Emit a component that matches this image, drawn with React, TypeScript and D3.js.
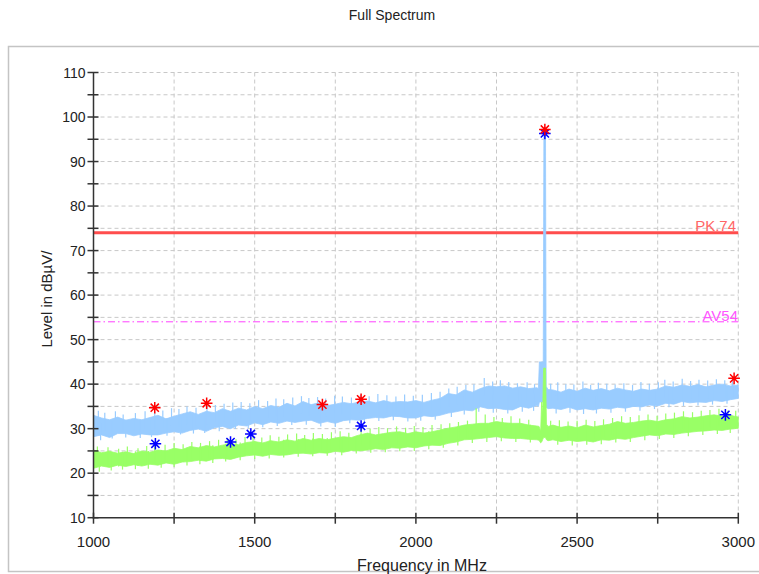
import React, { useEffect, useRef } from 'react';
import * as d3 from 'd3';

// sample grid of the trace (25 MHz), carrier region handled separately
const FREQS = d3.range(1000, 3001, 25).filter(f => f !== 2400);

// peak trace (light blue), upper / lower edge of the noise band in dBµV
const blueHi = [
  33.0, 32.4, 32.0, 32.6, 31.9, 32.3, 32.0, 32.5,
  33.0, 32.2, 32.8, 33.3, 33.8, 33.2, 33.9, 33.6,
  34.5, 33.9, 34.6, 34.2, 35.0, 34.5, 35.2, 34.8,
  35.7, 35.1, 36.1, 35.4, 35.8, 35.2, 35.5, 35.9,
  35.6, 36.0, 36.2, 35.8, 36.3, 35.9, 36.1, 36.0,
  36.3, 35.9, 36.4, 36.8, 37.9, 37.6, 38.7, 38.2,
  39.0, 39.6, 39.4, 39.6, 39.1, 39.4, 39.0, 39.2,
  38.7, 38.2, 38.9, 38.4, 39.1, 38.6, 39.0, 38.5,
  39.1, 38.7, 38.4, 38.9, 38.6, 38.9, 39.6, 39.3,
  39.8, 39.5, 39.9, 39.4, 39.8, 40.0, 39.6, 39.8,
];
const blueLo = [
  28.2, 28.6, 28.0, 28.9, 28.9, 28.4, 28.8, 28.6,
  28.6, 29.0, 29.3, 29.0, 29.6, 29.9, 29.4, 30.2,
  30.5, 30.0, 30.8, 30.6, 31.3, 30.9, 31.5, 31.2,
  31.7, 31.4, 31.7, 31.9, 31.2, 31.6, 31.2, 31.8,
  32.0, 31.9, 32.3, 32.5, 32.4, 32.8, 32.7, 32.4,
  32.4, 32.9, 32.7, 33.0, 33.5, 33.8, 34.2, 34.0,
  34.9, 34.5, 34.6, 34.3, 34.2, 35.0, 34.6, 35.2,
  34.6, 34.3, 34.8, 34.2, 34.5, 34.2, 34.6, 34.4,
  34.8, 34.6, 35.0, 34.9, 35.3, 35.1, 35.7, 35.5,
  36.1, 35.8, 36.0, 35.9, 36.3, 36.1, 36.5, 36.8,
];

// average trace (green)
const greenHi = [
  25.2, 24.6, 24.9, 24.5, 24.8, 24.4, 25.0, 24.7,
  25.2, 25.0, 25.6, 25.3, 26.0, 25.7, 26.2, 25.9,
  26.3, 26.6, 26.4, 26.9, 27.1, 26.8, 27.3, 27.0,
  27.5, 27.2, 27.8, 27.4, 27.8, 27.5, 27.9, 28.2,
  28.0, 28.6, 29.0, 28.6, 28.9, 29.2, 29.3, 28.9,
  29.3, 29.0, 29.3, 29.7, 30.1, 30.4, 30.8, 31.0,
  31.2, 31.2, 31.6, 31.3, 31.2, 31.2, 30.8, 30.6,
  30.8, 30.3, 30.6, 30.2, 30.8, 30.4, 30.7, 31.0,
  31.6, 31.2, 31.4, 31.7, 31.9, 31.6, 32.0, 32.2,
  32.7, 32.4, 32.6, 32.9, 33.1, 32.8, 33.0, 32.6,
];
const greenLo = [
  21.1, 21.6, 21.3, 21.8, 21.5, 21.9, 21.6, 22.0,
  21.8, 22.3, 22.0, 22.5, 22.6, 22.9, 22.7, 23.2,
  23.3, 23.1, 23.6, 23.9, 24.1, 23.8, 24.2, 24.0,
  24.1, 24.4, 24.5, 24.3, 24.6, 24.5, 24.9, 24.7,
  25.1, 25.0, 25.2, 25.5, 25.3, 25.7, 25.6, 25.9,
  25.7, 26.1, 26.3, 26.2, 26.7, 27.0, 27.5, 27.6,
  27.8, 28.0, 28.2, 27.9, 27.8, 27.8, 27.6, 27.5,
  27.5, 27.1, 27.4, 27.1, 27.3, 27.0, 27.5, 27.4,
  27.8, 27.6, 28.0, 28.3, 28.6, 28.4, 28.8, 28.7,
  29.0, 29.2, 29.4, 29.5, 29.7, 29.6, 29.9, 30.1,
];

// 2.4 GHz carrier
const blueCarrierF = [2380, 2383, 2395, 2397, 2402, 2404, 2410];
const blueCarrierHi = [39.0, 45.0, 45.0, 96.3, 96.3, 39.5, 38.8];
const blueCarrierLo = [35.0, 36.0, 36.0, 36.0, 36.0, 34.8, 34.5];
const greenCarrierF = [2382, 2387, 2390, 2393, 2396, 2402, 2405, 2410];
const greenCarrierHi = [30.5, 29.5, 36.0, 33.0, 43.6, 43.6, 31.0, 30.5];
const greenCarrierLo = [27.4, 26.8, 27.0, 27.5, 28.0, 28.0, 27.5, 27.3];

// single noise spikes above the band [MHz, dBµV]
const blueUp = [
  [1015, 34.0], [1035, 33.6], [1068, 33.9], [1092, 33.2], [1130, 33.5], [1160, 33.9],
  [1190, 33.8], [1215, 34.1], [1242, 34.6], [1265, 34.4], [1290, 35.0], [1318, 34.7],
  [1352, 35.0], [1378, 35.3], [1405, 35.6], [1432, 35.9], [1458, 36.0], [1485, 35.7],
  [1512, 36.4], [1540, 36.2], [1566, 36.8], [1590, 36.6], [1618, 37.0], [1645, 37.3],
  [1668, 36.9], [1695, 37.1], [1720, 36.8], [1748, 37.4], [1772, 37.2], [1800, 37.0],
  [1828, 37.6], [1855, 37.3], [1882, 37.8], [1910, 37.5], [1938, 37.2], [1965, 37.7],
  [1992, 37.4], [2020, 37.6], [2048, 38.0], [2075, 38.3], [2102, 39.0], [2128, 39.4],
  [2155, 39.8], [2180, 40.0], [2212, 41.4], [2238, 40.6], [2262, 40.9], [2288, 40.5],
  [2315, 40.2], [2345, 40.4], [2368, 40.0], [2418, 40.1], [2440, 40.4], [2465, 40.0],
  [2490, 39.9], [2518, 40.6], [2542, 39.8], [2566, 40.3], [2592, 40.1], [2618, 39.9],
  [2645, 40.2], [2672, 39.8], [2698, 40.5], [2724, 40.1], [2752, 40.4], [2772, 41.0],
  [2798, 40.6], [2826, 41.2], [2852, 40.7], [2878, 41.0], [2905, 40.8], [2932, 41.1],
  [2958, 40.9], [2982, 41.2],
];
// single dips below the band
const blueDown = [
  [1022, 27.4], [1058, 27.8], [1100, 28.0], [1145, 27.9], [1180, 28.1], [1228, 28.4],
  [1270, 28.7], [1310, 28.9], [1345, 29.0], [1390, 29.4], [1440, 29.9], [1480, 30.1],
  [1525, 30.3], [1570, 30.6], [1615, 30.8], [1660, 30.9], [1705, 30.5], [1750, 30.4],
  [1795, 31.2], [1840, 31.5], [1885, 31.7], [1930, 31.9], [1975, 31.6], [2015, 31.8],
  [2060, 32.0], [2110, 32.6], [2150, 33.2], [2195, 33.8], [2240, 33.6], [2285, 33.4],
  [2330, 33.8], [2365, 34.0], [2435, 33.4], [2478, 33.6], [2520, 33.3], [2560, 33.4],
  [2605, 33.6], [2650, 33.8], [2695, 34.0], [2740, 34.4], [2785, 34.8], [2830, 35.1],
  [2875, 35.2], [2920, 35.4], [2965, 35.6],
];
const greenUp = [
  [1012, 26.0], [1045, 25.8], [1078, 25.5], [1105, 26.0], [1138, 25.6], [1165, 26.1],
  [1190, 26.2], [1222, 26.4], [1250, 26.8], [1278, 26.5], [1305, 27.0], [1332, 26.8],
  [1360, 27.2], [1388, 27.5], [1415, 27.8], [1442, 27.6], [1470, 28.1], [1495, 28.4],
  [1522, 28.0], [1548, 28.5], [1575, 28.2], [1602, 28.7], [1630, 28.9], [1655, 28.6],
  [1682, 29.0], [1710, 28.8], [1738, 29.2], [1765, 29.4], [1792, 29.1], [1830, 30.2],
  [1858, 30.0], [1885, 30.4], [1912, 30.1], [1940, 30.5], [1968, 30.2], [1995, 30.6],
  [2022, 30.4], [2050, 30.8], [2078, 31.0], [2105, 31.2], [2132, 31.5], [2160, 31.8],
  [2187, 34.6], [2215, 33.2], [2242, 32.6], [2268, 32.4], [2295, 32.8], [2322, 32.3],
  [2350, 32.0], [2418, 31.8], [2445, 31.9], [2472, 31.6], [2500, 31.8], [2528, 32.0],
  [2555, 31.7], [2582, 32.1], [2610, 32.4], [2638, 32.8], [2665, 32.6], [2692, 33.0],
  [2720, 33.2], [2748, 32.9], [2775, 33.4], [2802, 33.6], [2830, 33.9], [2858, 33.7],
  [2885, 34.0], [2912, 34.2], [2940, 34.5], [2968, 34.1], [2992, 34.0],
];
const greenDown = [
  [1018, 20.3], [1055, 20.6], [1090, 20.8], [1130, 20.9], [1170, 21.0], [1210, 21.2],
  [1250, 21.4], [1290, 21.7], [1330, 22.0], [1370, 22.3], [1410, 22.6], [1455, 22.9],
  [1500, 23.2], [1545, 23.3], [1590, 23.5], [1635, 23.7], [1680, 23.8], [1725, 23.9],
  [1770, 24.0], [1815, 24.4], [1860, 24.6], [1905, 24.7], [1950, 24.9], [1995, 25.0],
  [2040, 25.4], [2085, 25.7], [2130, 26.2], [2175, 26.8], [2220, 27.0], [2265, 27.2],
  [2310, 27.0], [2355, 26.9], [2440, 26.4], [2485, 26.2], [2530, 26.4], [2575, 26.5],
  [2620, 26.9], [2665, 27.0], [2710, 27.4], [2755, 27.7], [2800, 27.9], [2845, 28.3],
  [2890, 28.6], [2935, 28.8], [2975, 29.0],
];

// final measurement markers
const peakMarkF = [1190, 1351, 1710, 1830, 2400, 2987];
const peakMarkLevel = [34.7, 35.7, 35.4, 36.6, 97.2, 41.3];
const avgMarkF = [1192, 1425, 1488, 1830, 2400, 2960];
const avgMarkLevel = [26.6, 27.0, 28.8, 30.6, 96.3, 33.1];

const xTicks = d3.range(1000, 3001, 250);
const xLabels = [1000, 1500, 2000, 2500, 3000];
const yTicks = d3.range(10, 111, 5);
const yLabels = d3.range(10, 111, 10);

const PK_LIMIT = 74;
const AV_LIMIT = 54;

const FONT = '"Liberation Sans", Arial, sans-serif';

type Pt = { f: number; lo: number; hi: number };

function buildTrace(hi: number[], lo: number[], cf: number[], chi: number[], clo: number[]): Pt[] {
  const pts: Pt[] = FREQS.map((f, i) => ({ f, lo: lo[i], hi: hi[i] }));
  cf.forEach((f, i) => pts.push({ f, lo: clo[i], hi: chi[i] }));
  return pts.sort((a, b) => a.f - b.f);
}

const star = (r: number) => {
  const d = r * 0.7071;
  return `M${-r},0H${r}M0,${-r}V${r}M${-d},${-d}L${d},${d}M${-d},${d}L${d},${-d}`;
};

export default function App() {
  const svgRef = useRef<SVGSVGElement>(null);

  useEffect(() => {
    if (!svgRef.current) return;
    const svg = d3.select(svgRef.current);
    svg.selectAll('*').remove();

    const x = d3.scaleLinear().domain([1000, 3000]).range([93.5, 738.3]);
    const y = d3.scaleLinear().domain([10, 110]).range([517.7, 72.5]);
    const [x0, x1] = x.range();
    const [yb, yt] = y.range();

    // outer frame
    svg.append('rect')
      .attr('x', 8.5).attr('y', 46.5).attr('width', 770).attr('height', 525)
      .attr('fill', 'none').attr('stroke', '#c4c4c4').attr('stroke-width', 1.5);

    svg.append('text')
      .attr('x', 392).attr('y', 20).attr('text-anchor', 'middle')
      .style('font-family', FONT).style('font-size', '14px').style('fill', '#222')
      .text('Full Spectrum');

    // grid
    const grid = svg.append('g').attr('stroke', '#c8c8c8').attr('stroke-dasharray', '4,3').attr('stroke-width', 1);
    grid.selectAll('line.v').data(xTicks.slice(1)).join('line')
      .attr('x1', d => x(d)).attr('x2', d => x(d)).attr('y1', yt).attr('y2', yb);
    grid.selectAll('line.h').data(yTicks.slice(1)).join('line')
      .attr('x1', x0).attr('x2', x1).attr('y1', d => y(d)).attr('y2', d => y(d));

    // limit lines
    svg.append('line')
      .attr('x1', x0).attr('x2', x1).attr('y1', y(PK_LIMIT)).attr('y2', y(PK_LIMIT))
      .attr('stroke', '#ff4d4d').attr('stroke-width', 3);
    svg.append('line')
      .attr('x1', x0).attr('x2', x1).attr('y1', y(AV_LIMIT)).attr('y2', y(AV_LIMIT))
      .attr('stroke', '#ff40ff').attr('stroke-width', 1).attr('stroke-dasharray', '7,3,1.5,3');

    // traces
    const area = d3.area<Pt>().x(d => x(d.f)).y0(d => y(d.lo)).y1(d => y(d.hi));
    const drawTrace = (pts: Pt[], up: number[][], down: number[][], color: string) => {
      svg.append('path').datum(pts).attr('d', area)
        .attr('fill', color).attr('stroke', color).attr('stroke-width', 0.8);
      const g = svg.append('g').attr('stroke', color).attr('stroke-width', 1.2);
      g.selectAll('line.up').data(up).join('line')
        .attr('x1', d => x(d[0])).attr('x2', d => x(d[0]))
        .attr('y1', d => y(d[1])).attr('y2', d => y(d[1] - 4));
      g.selectAll('line.dn').data(down).join('line')
        .attr('x1', d => x(d[0])).attr('x2', d => x(d[0]))
        .attr('y1', d => y(d[1])).attr('y2', d => y(d[1] + 4));
    };
    drawTrace(buildTrace(blueHi, blueLo, blueCarrierF, blueCarrierHi, blueCarrierLo), blueUp, blueDown, '#99ccff');
    drawTrace(buildTrace(greenHi, greenLo, greenCarrierF, greenCarrierHi, greenCarrierLo), greenUp, greenDown, '#99ff66');

    // limit labels
    svg.append('text')
      .attr('x', 736).attr('y', y(PK_LIMIT) - 1.5).attr('text-anchor', 'end')
      .style('font-family', FONT).style('font-size', '15px').style('fill', '#ff6666')
      .text('PK.74');
    svg.append('text')
      .attr('x', 738).attr('y', y(AV_LIMIT) - 1).attr('text-anchor', 'end')
      .style('font-family', FONT).style('font-size', '15px').style('fill', '#ff55ff')
      .text('AV54');

    // axes
    const axis = svg.append('g').attr('stroke', '#333').attr('stroke-width', 1.5);
    axis.append('line').attr('x1', x0).attr('x2', x0).attr('y1', yt).attr('y2', yb + 0.75);
    axis.append('line').attr('x1', x0 - 0.75).attr('x2', x1).attr('y1', yb).attr('y2', yb);
    axis.selectAll('line.yt').data(yTicks).join('line')
      .attr('x1', x0 - 6).attr('x2', x0 + 5).attr('y1', d => y(d)).attr('y2', d => y(d));
    axis.selectAll('line.xt').data(xTicks).join('line')
      .attr('x1', d => x(d)).attr('x2', d => x(d)).attr('y1', yb - 5).attr('y2', yb + 6);

    svg.append('g').selectAll('text').data(yLabels).join('text')
      .attr('x', x0 - 8).attr('y', d => y(d) + 5).attr('text-anchor', 'end')
      .style('font-family', FONT).style('font-size', '14px').style('fill', '#222')
      .text(d => d);
    svg.append('g').selectAll('text').data(xLabels).join('text')
      .attr('x', d => x(d)).attr('y', 547).attr('text-anchor', 'middle')
      .style('font-family', FONT).style('font-size', '15px').style('fill', '#222')
      .text(d => d);

    svg.append('text')
      .attr('x', 422).attr('y', 571).attr('text-anchor', 'middle')
      .style('font-family', FONT).style('font-size', '16px').style('fill', '#222')
      .text('Frequency in MHz');
    svg.append('text')
      .attr('transform', `translate(52,${(yt + yb) / 2 + 4}) rotate(-90)`)
      .attr('text-anchor', 'middle')
      .style('font-family', FONT).style('font-size', '15px').style('fill', '#222')
      .text('Level in dBµV/');

    // markers
    const marks = (fs: number[], lv: number[], color: string) =>
      svg.append('g').selectAll('path').data(fs).join('path')
        .attr('transform', (d, i) => `translate(${x(d)},${y(lv[i])})`)
        .attr('d', star(5.8))
        .attr('fill', 'none').attr('stroke', color).attr('stroke-width', 1.5);
    marks(avgMarkF, avgMarkLevel, '#0000ff');
    marks(peakMarkF, peakMarkLevel, '#ff0000');
  }, []);

  return (
    <svg
      ref={svgRef}
      width={759}
      height={574}
      style={{ position: 'absolute', left: 0, top: 0, background: '#fff' }}
    />
  );
}
